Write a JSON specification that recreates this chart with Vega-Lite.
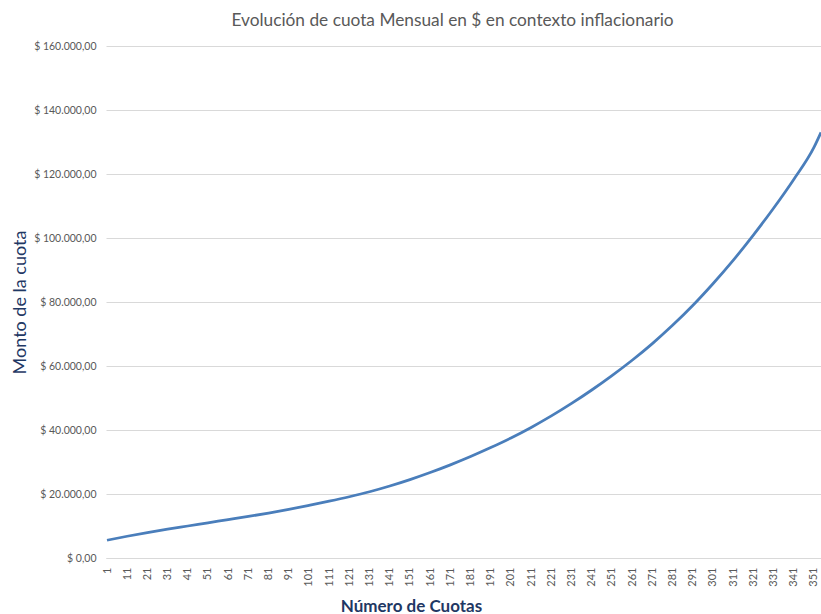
{
  "$schema": "https://vega.github.io/schema/vega-lite/v6.json",
  "autosize": {"type": "none"},
  "width": 715,
  "height": 512,
  "padding": {"left": 106, "top": 46, "right": 0, "bottom": 56},
  "background": "white",
  "config": {
    "view": {"stroke": null},
    "locale": {"number": {"decimal": ",", "thousands": ".", "grouping": [3], "currency": ["$ ", ""]}},
    "font": "Lato"
  },
  "title": {
    "text": "Evolución de cuota Mensual en $ en contexto inflacionario",
    "font": "Lato",
    "fontSize": 17.3,
    "fontWeight": "normal",
    "color": "#595959",
    "anchor": "middle",
    "dx": -11,
    "offset": 12
  },
  "data": {
    "values": [
      {"cuota": 1, "monto": 5550},
      {"cuota": 11, "monto": 6800},
      {"cuota": 21, "monto": 7950},
      {"cuota": 31, "monto": 9000},
      {"cuota": 41, "monto": 10000},
      {"cuota": 51, "monto": 11000},
      {"cuota": 61, "monto": 11990},
      {"cuota": 71, "monto": 12990},
      {"cuota": 81, "monto": 14050},
      {"cuota": 91, "monto": 15200},
      {"cuota": 101, "monto": 16450},
      {"cuota": 111, "monto": 17750},
      {"cuota": 121, "monto": 19150},
      {"cuota": 131, "monto": 20700},
      {"cuota": 141, "monto": 22500},
      {"cuota": 151, "monto": 24500},
      {"cuota": 161, "monto": 26700},
      {"cuota": 171, "monto": 29100},
      {"cuota": 181, "monto": 31700},
      {"cuota": 191, "monto": 34500},
      {"cuota": 201, "monto": 37500},
      {"cuota": 211, "monto": 40800},
      {"cuota": 221, "monto": 44400},
      {"cuota": 231, "monto": 48300},
      {"cuota": 241, "monto": 52500},
      {"cuota": 251, "monto": 57000},
      {"cuota": 261, "monto": 61800},
      {"cuota": 271, "monto": 67000},
      {"cuota": 281, "monto": 72700},
      {"cuota": 291, "monto": 78900},
      {"cuota": 301, "monto": 85700},
      {"cuota": 311, "monto": 93000},
      {"cuota": 321, "monto": 100900},
      {"cuota": 331, "monto": 109300},
      {"cuota": 341, "monto": 118300},
      {"cuota": 351, "monto": 128300},
      {"cuota": 354.5, "monto": 133000}
    ]
  },
  "mark": {"type": "line", "color": "#4A7EBB", "strokeWidth": 2.75, "interpolate": "monotone"},
  "encoding": {
    "x": {
      "field": "cuota",
      "type": "quantitative",
      "scale": {"domain": [0.5, 354.5], "nice": false, "zero": false},
      "axis": {
        "values": [1, 11, 21, 31, 41, 51, 61, 71, 81, 91, 101, 111, 121, 131, 141, 151, 161, 171, 181, 191, 201, 211, 221, 231, 241, 251, 261, 271, 281, 291, 301, 311, 321, 331, 341, 351],
        "grid": false,
        "ticks": false,
        "domainColor": "#D9D9D9",
        "domainWidth": 1,
        "labelAngle": -90,
        "labelFontSize": 11,
        "labelColor": "#595959",
        "labelPadding": 9,
        "labelFont": "Lato",
        "title": "Número de Cuotas",
        "titleFont": "Lato",
        "titleFontSize": 17,
        "titleFontWeight": "bold",
        "titleColor": "#1F3864",
        "titleX": 305,
        "titleY": 53,
        "titleBaseline": "alphabetic",
        "titleAnchor": "middle",
        "labelOverlap": false
      }
    },
    "y": {
      "field": "monto",
      "type": "quantitative",
      "scale": {"domain": [0, 160000], "nice": false},
      "axis": {
        "values": [0, 20000, 40000, 60000, 80000, 100000, 120000, 140000, 160000],
        "format": "$,.2f",
        "domain": false,
        "ticks": false,
        "gridColor": "#D9D9D9",
        "gridWidth": 1,
        "labelFontSize": 10.5,
        "labelColor": "#595959",
        "labelPadding": 10,
        "labelFont": "Lato",
        "title": "Monto de la cuota",
        "titleFont": "Lato",
        "titleFontSize": 18,
        "titleFontWeight": "normal",
        "titleColor": "#1F3864",
        "titleX": -81,
        "titleY": 256,
        "titleAngle": 270,
        "titleBaseline": "alphabetic",
        "titleAnchor": "middle"
      }
    }
  }
}
